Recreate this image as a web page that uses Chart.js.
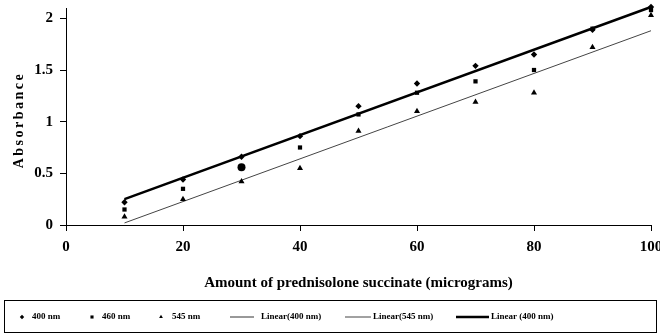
<!DOCTYPE html>
<html>
<head>
<meta charset="utf-8">
<script src="https://cdn.jsdelivr.net/npm/chart.js@4"></script>
<style>
html,body{margin:0;padding:0;background:#fff;}
#wrap{width:660px;height:335px;position:relative;}
</style>
</head>
<body>
<div id="wrap"><canvas id="c" width="660" height="335"></canvas></div>
<script>
// ---- data ----
const amounts = [10, 20, 30, 40, 50, 60, 70, 80, 90, 100];
const abs400 = [0.22, 0.44, 0.66, 0.86, 1.15, 1.37, 1.54, 1.65, 1.89, 2.11];
const abs460 = [0.15, 0.35, 0.56, 0.75, 1.07, 1.28, 1.39, 1.50, 1.90, 2.08];
const abs545 = [0.08, 0.25, 0.42, 0.55, 0.91, 1.10, 1.19, 1.28, 1.72, 2.03];
const trendX = [10, 100];
const trend400 = [0.25, 2.11];
const trend545 = [0.02, 1.88];
const xTicks = [0, 20, 40, 60, 80, 100];
const yTicks = [0, 0.5, 1, 1.5, 2];
const legendLabels = ['400 nm', '460 nm', '545 nm', 'Linear(400 nm)', 'Linear(545 nm)', 'Linear (400 nm)'];
const xTitle = 'Amount of prednisolone succinate (micrograms)';
const yTitle = 'Absorbance';

const pts = (xs, ys) => xs.map((x, i) => ({x: x, y: ys[i]}));
const SERIF = '"Liberation Serif", "Times New Roman", serif';

const legendPlugin = {
  id: 'customLegend',
  afterDraw(chart) {
    const ctx = chart.ctx;
    ctx.save();
    ctx.font = 'bold 14px ' + SERIF;
    ctx.fillStyle = '#000';
    ctx.letterSpacing = '2.5px';
    ctx.translate(19, 120);
    ctx.rotate(-Math.PI / 2);
    ctx.textAlign = 'center';
    ctx.textBaseline = 'middle';
    ctx.fillText(yTitle, 0, 0);
    ctx.restore();

    ctx.save();
    ctx.strokeStyle = '#000';
    ctx.lineWidth = 1;
    ctx.strokeRect(4.5, 300.5, 652, 32);
    const y = 317;
    ctx.font = 'bold 9px ' + SERIF;
    ctx.textBaseline = 'middle';
    ctx.textAlign = 'left';
    const ds = chart.data.datasets;
    const items = [
      {m: 22, t: 32, type: 'pt', s: 'rectRot'},
      {m: 92, t: 102, type: 'pt', s: 'rect'},
      {m: 161, t: 172, type: 'pt', s: 'triangle'},
      {m: [230, 254], t: 261, type: 'ln', d: ds[3]},
      {m: [345, 371], t: 373, type: 'ln', d: ds[4]},
      {m: [456, 489], t: 491, type: 'ln', d: ds[5]}
    ];
    items.forEach((it, i) => {
      ctx.fillStyle = '#000';
      ctx.strokeStyle = '#000';
      if (it.type === 'pt') {
        Chart.helpers.drawPoint(ctx, {pointStyle: it.s, radius: 2.2, borderWidth: 0}, it.m, y);
      } else {
        ctx.strokeStyle = it.d.borderColor;
        ctx.lineWidth = it.d.borderWidth;
        ctx.beginPath();
        ctx.moveTo(it.m[0], y);
        ctx.lineTo(it.m[1], y);
        ctx.stroke();
      }
      ctx.fillStyle = '#000';
      ctx.fillText(legendLabels[i], it.t, y);
    });
    ctx.restore();
  }
};

const markerCommon = {
  showLine: false,
  backgroundColor: '#000',
  borderColor: '#000',
  borderWidth: 0,
  pointHoverRadius: 3
};

new Chart(document.getElementById('c'), {
  type: 'scatter',
  data: {
    datasets: [
      Object.assign({}, markerCommon, {label: legendLabels[0], data: pts(amounts, abs400), pointStyle: 'rectRot', pointRadius: 3.2, order: 1}),
      Object.assign({}, markerCommon, {label: legendLabels[1], data: pts(amounts, abs460),
        pointStyle: ['rect', 'rect', 'circle', 'rect', 'rect', 'rect', 'rect', 'rect', 'rect', 'rect'],
        pointRadius: [3, 3, 4, 3, 3, 3, 3, 3, 3, 3], order: 2}),
      Object.assign({}, markerCommon, {label: legendLabels[2], data: pts(amounts, abs545), pointStyle: 'triangle', pointRadius: 3.5, order: 3}),
      {label: legendLabels[3], data: pts(trendX, trend400), showLine: true, pointRadius: 0, borderColor: '#333', borderWidth: 1, order: 5},
      {label: legendLabels[4], data: pts(trendX, trend545), showLine: true, pointRadius: 0, borderColor: '#444', borderWidth: 1, order: 4},
      {label: legendLabels[5], data: pts(trendX, trend400), showLine: true, pointRadius: 0, borderColor: '#000', borderWidth: 2.5, order: 4}
    ]
  },
  options: {
    responsive: false,
    animation: false,
    devicePixelRatio: 1,
    clip: false,
    layout: {padding: {left: 0, right: 9, top: 8, bottom: 0}},
    plugins: {legend: {display: false}, tooltip: {enabled: false}},
    scales: {
      x: {
        type: 'linear',
        min: 0, max: 100,
        afterBuildTicks: (s) => { s.ticks = xTicks.map(v => ({value: v})); },
        afterFit: (s) => { s.height = 110; s.paddingLeft = 0; s.paddingRight = 0; },
        grid: {drawOnChartArea: false, drawTicks: true, tickLength: 6, color: '#000'},
        border: {color: '#000', width: 1},
        ticks: {color: '#000', padding: 7, maxRotation: 0, callback: (v) => String(v), font: {family: SERIF, size: 15, weight: 'bold'}},
        title: {display: true, text: xTitle, color: '#000', font: {family: SERIF, size: 15, weight: 'bold'}, padding: {top: 0, bottom: 43}}
      },
      y: {
        type: 'linear',
        min: 0, max: 2.1,
        afterBuildTicks: (s) => { s.ticks = yTicks.map(v => ({value: v})); },
        afterFit: (s) => { s.width = 66; s.paddingTop = 0; s.paddingBottom = 0; },
        grid: {drawOnChartArea: false, drawTicks: true, tickLength: 6, color: '#000'},
        border: {color: '#000', width: 1},
        ticks: {color: '#000', padding: 7, callback: (v) => String(v), font: {family: SERIF, size: 15, weight: 'bold'}},
        title: {display: false}
      }
    }
  },
  plugins: [legendPlugin]
});
</script>
</body>
</html>
